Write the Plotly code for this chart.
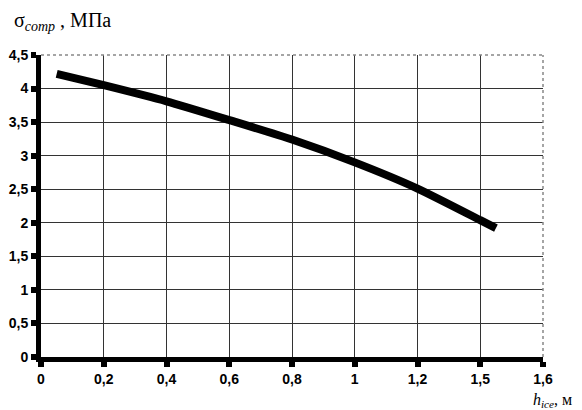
import plotly.graph_objects as go

# Data
h_ice = [0.05, 0.2, 0.4, 0.6, 0.8, 1.0, 1.2, 1.4, 1.45]
sigma_comp = [4.22, 4.05, 3.81, 3.53, 3.24, 2.90, 2.51, 2.04, 1.92]

x_tickvals = [0, 0.2, 0.4, 0.6, 0.8, 1.0, 1.2, 1.4, 1.6]
x_ticktext = ["0", "0,2", "0,4", "0,6", "0,8", "1", "1,2", "1,5", "1,6"]
y_tickvals = [0, 0.5, 1, 1.5, 2, 2.5, 3, 3.5, 4, 4.5]
y_ticktext = ["0", "0,5", "1", "1,5", "2", "2,5", "3", "3,5", "4", "4,5"]

fig = go.Figure()
fig.add_trace(go.Scatter(
    x=h_ice, y=sigma_comp, mode="lines",
    line=dict(color="black", width=8, shape="spline", smoothing=0.6),
    showlegend=False, hoverinfo="skip",
))

tickfont = dict(family="Liberation Sans, Arial, sans-serif", size=14, color="black", weight="bold")

fig.update_layout(
    width=574, height=402,
    margin=dict(l=33, r=39, t=47, b=53, autoexpand=False),
    paper_bgcolor="white", plot_bgcolor="white",
    xaxis=dict(
        range=[0, 1.6], tickvals=x_tickvals, ticktext=x_ticktext,
        showgrid=True, gridcolor="#333", gridwidth=1,
        showline=True, linecolor="black", linewidth=5,
        ticks="outside", ticklen=5, tickwidth=6, tickcolor="black",
        tickfont=tickfont, zeroline=False,
    ),
    yaxis=dict(
        range=[0, 4.5], tickvals=y_tickvals, ticktext=y_ticktext,
        showgrid=True, gridcolor="#333", gridwidth=1,
        showline=True, linecolor="black", linewidth=5,
        ticks="outside", ticklen=5, tickwidth=6, tickcolor="black",
        tickfont=tickfont, zeroline=False,
    ),
    shapes=[
        dict(type="line", xref="paper", yref="paper", x0=0, x1=1, y0=1, y1=1,
             line=dict(color="#888", width=1.5, dash="dot")),
        dict(type="line", xref="paper", yref="paper", x0=1, x1=1, y0=0, y1=1,
             line=dict(color="#888", width=1.5, dash="dot")),
    ],
    annotations=[
        dict(text="σ<sub><i>comp</i></sub> , МПа", xref="paper", yref="paper",
             x=-0.058, y=1.11, xanchor="left", yanchor="middle", showarrow=False,
             font=dict(family="Liberation Serif, Times New Roman, serif", size=20, color="black")),
        dict(text="<i>h</i><sub><i>ice</i></sub>, м", xref="paper", yref="paper",
             x=1.062, y=-0.145, xanchor="right", yanchor="middle", showarrow=False,
             font=dict(family="Liberation Serif, Times New Roman, serif", size=16, color="black")),
    ],
)

fig.write_html("out.html")
